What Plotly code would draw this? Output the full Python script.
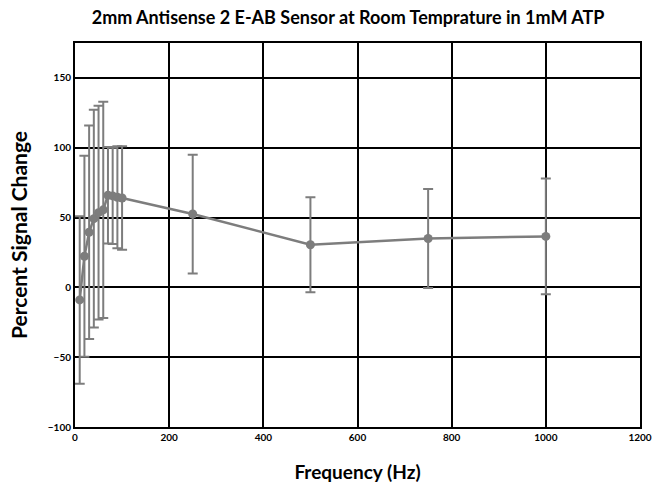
import plotly.graph_objects as go

frequency_hz = [10, 20, 30, 40, 50, 60, 70, 80, 90, 100, 250, 500, 750, 1000]
percent_change = [-9, 22.3, 39.5, 49.2, 53.5, 55.5, 66, 65.5, 64.5, 64, 52.5, 30.5, 35, 36.5]
error_pct = [60, 72, 76.5, 78, 76.5, 77.5, 34.5, 34.5, 36.5, 37, 42.5, 34, 35.5, 41.5]

x_ticks = [0, 200, 400, 600, 800, 1000, 1200]
y_ticks = [-100, -50, 0, 50, 100, 150]

gray = "#7d7d7d"

fig = go.Figure()
fig.add_trace(go.Scatter(
    x=frequency_hz, y=percent_change,
    mode="lines+markers",
    line=dict(color=gray, width=2.5),
    marker=dict(color=gray, size=9),
    error_y=dict(type="data", array=error_pct, visible=True,
                 color=gray, thickness=2, width=5),
    showlegend=False,
))

fig.update_layout(
    width=653, height=488,
    margin=dict(l=75, r=13, t=43, b=61, autoexpand=False),
    paper_bgcolor="white", plot_bgcolor="white",
    title=dict(text="2mm Antisense 2 E-AB Sensor at Room Temprature in 1mM ATP",
               x=0.533, xanchor="center", y=0.963, yanchor="middle",
               font=dict(family="Lato", size=18, color="black", weight="bold")),
    xaxis=dict(range=[0, 1200], tickvals=x_ticks, automargin=False,
               showgrid=True, gridcolor="black", gridwidth=1.6,
               showline=True, linecolor="black", linewidth=2, mirror=True,
               zeroline=False, ticks="",
               tickfont=dict(family="Lato", size=10, color="black", weight="bold"),
               title=dict(text="Frequency (Hz)", standoff=24,
                          font=dict(family="Lato", size=19, color="black", weight="bold"))),
    yaxis=dict(range=[-100, 175], tickvals=y_ticks, automargin=False,
               showgrid=True, gridcolor="black", gridwidth=1.6,
               showline=True, linecolor="black", linewidth=2, mirror=True,
               zeroline=False, ticks="",
               tickfont=dict(family="Lato", size=10, color="black", weight="bold"),
               title=dict(text="Percent Signal Change", standoff=14,
                          font=dict(family="Lato", size=21, color="black", weight="bold"))),
)

fig.write_html("out.html")
